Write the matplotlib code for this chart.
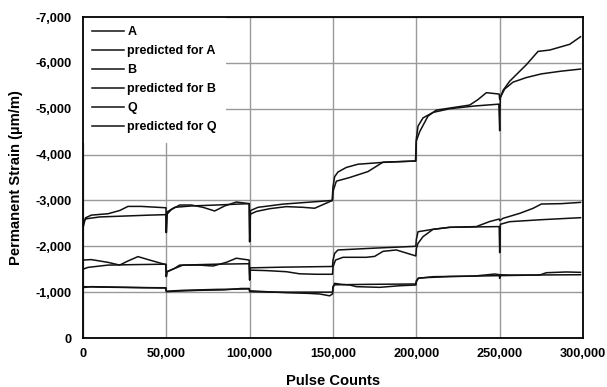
import matplotlib
matplotlib.use("Agg")
import matplotlib.pyplot as plt
from matplotlib.ticker import FuncFormatter, MultipleLocator

plt.rcParams["font.family"] = ["Liberation Sans", "DejaVu Sans"]
plt.rcParams["font.weight"] = "bold"

# Measured and predicted permanent strain (pulse count, strain in um/m).
a_x = [0, 0, 1500, 5000, 15000, 22000, 27000, 35000, 45000, 49800, 50000, 50400, 53000, 58000,
       65000, 72000, 79000, 85000, 92000, 99800, 100000, 100400, 104000, 112000, 122000, 132000,
       139000, 149700, 150000, 152000, 160000, 171000, 180000, 199700, 200000, 202000, 207000,
       212000, 232000, 237000, 242000, 249700, 250000, 252000, 256000, 266000, 273000, 280000,
       292000, 298500]
a_y = [-2400, -2400, -2620, -2680, -2710, -2780, -2870, -2870, -2850, -2840, -2300, -2700, -2800,
       -2900, -2900, -2850, -2770, -2880, -2965, -2930, -2100, -2700, -2760, -2820, -2865, -2850,
       -2830, -3000, -3200, -3420, -3500, -3630, -3835, -3860, -4300, -4500, -4840, -4970, -5080,
       -5200, -5350, -5320, -5200, -5400, -5600, -5960, -6250, -6280, -6405, -6570]

a_pred_x = [0, 2000, 10000, 25000, 40000, 49700, 50000, 50500, 55000, 65000, 80000, 99700,
            100000, 100500, 105000, 120000, 135000, 149500, 150000, 151000, 153000, 158000,
            165000, 180000, 199500, 200000, 201000, 204000, 210000, 220000, 235000, 249500,
            250000, 250400, 253000, 258000, 266000, 275000, 287000, 298500]
a_pred_y = [-2550, -2600, -2640, -2660, -2680, -2690, -2300, -2750, -2850, -2880, -2900, -2930,
            -2100, -2780, -2850, -2920, -2960, -3000, -3300, -3520, -3620, -3720, -3790, -3830,
            -3860, -4350, -4620, -4800, -4920, -5000, -5060, -5100, -4520, -5250, -5430, -5580,
            -5680, -5760, -5820, -5865]

b_x = [0, 5000, 15000, 22000, 27000, 33000, 40000, 49700, 50000, 50400, 55000, 58000, 70000,
       78000, 86000, 92000, 99700, 100000, 100400, 110000, 122000, 130000, 140000, 149700, 150000,
       151500, 156000, 170000, 175000, 180000, 188000, 199700, 200000, 201000, 204000, 210000,
       220000, 236000, 244000, 249700, 250000, 252000, 262000, 270000, 275000, 287000, 298500]
b_y = [-1700, -1710, -1650, -1590, -1680, -1775, -1700, -1600, -1340, -1440, -1520, -1590, -1590,
       -1570, -1650, -1740, -1700, -1265, -1480, -1470, -1446, -1400, -1390, -1390, -1550, -1700,
       -1760, -1760, -1780, -1890, -1920, -1790, -1950, -2064, -2210, -2370, -2414, -2430, -2540,
       -2595, -2560, -2610, -2718, -2828, -2922, -2930, -2958]

b_pred_x = [0, 3000, 15000, 30000, 49700, 50000, 50400, 60000, 80000, 99700, 100000, 100400,
            120000, 149700, 150000, 151000, 153000, 175000, 199700, 200000, 201000, 210000,
            220000, 249700, 250000, 250400, 256000, 275000, 298500]
b_pred_y = [-1500, -1540, -1590, -1600, -1610, -1340, -1450, -1590, -1610, -1620, -1265, -1530,
            -1545, -1560, -1700, -1846, -1920, -1960, -2000, -2150, -2318, -2370, -2414, -2430,
            -1860, -2480, -2537, -2580, -2624]

q_x = [0, 5000, 20000, 35000, 49700, 50000, 55000, 70000, 85000, 95000, 99700, 100000, 110000,
       122000, 135000, 142000, 148000, 149700, 150000, 151000, 155000, 160000, 164000, 178000,
       190000, 199700, 200000, 201000, 210000, 235000, 247000, 250000, 256000, 274000, 278000,
       290000, 298500]
q_y = [-1100, -1120, -1110, -1100, -1095, -1010, -1020, -1040, -1050, -1080, -1080, -1030, -1010,
       -988, -974, -960, -920, -960, -1100, -1192, -1170, -1156, -1120, -1105, -1140, -1156,
       -1220, -1301, -1337, -1352, -1395, -1380, -1373, -1373, -1424, -1440, -1432]

q_pred_x = [0, 10000, 30000, 49700, 50000, 60000, 80000, 99700, 100000, 115000, 149700, 150000,
            151000, 170000, 199700, 200000, 201500, 220000, 249700, 250000, 250400, 275000, 298500]
q_pred_y = [-1120, -1110, -1100, -1090, -1020, -1040, -1060, -1070, -1010, -1000, -1000, -1120,
            -1160, -1170, -1178, -1250, -1310, -1340, -1360, -1300, -1360, -1375, -1380]

series = [
    ("A", a_x, a_y),
    ("predicted for A", a_pred_x, a_pred_y),
    ("B", b_x, b_y),
    ("predicted for B", b_pred_x, b_pred_y),
    ("Q", q_x, q_y),
    ("predicted for Q", q_pred_x, q_pred_y),
]

fig = plt.figure(figsize=(6.07, 3.87), dpi=100)
ax = fig.add_axes([0.1367, 0.1266, 0.8238, 0.8294])

for name, xs, ys in series:
    ax.plot(xs, ys, color="#111111", linewidth=1.1, label=name)

ax.set_xlim(0, 300000)
ax.set_ylim(0, -7000)
ax.xaxis.set_major_locator(MultipleLocator(50000))
ax.yaxis.set_major_locator(MultipleLocator(1000))
fmt = FuncFormatter(lambda v, p: f"{int(round(v)):,}")
ax.xaxis.set_major_formatter(fmt)
ax.yaxis.set_major_formatter(fmt)

ax.grid(True, color="#999999", linewidth=1.0)
ax.set_axisbelow(True)
for sp in ax.spines.values():
    sp.set_linewidth(1.3)
    sp.set_zorder(3)
ax.tick_params(axis="both", length=0, labelsize=9.2)
ax.tick_params(axis="x", pad=7.5)
ax.tick_params(axis="y", pad=8)
for lbl in ax.get_xticklabels() + ax.get_yticklabels():
    lbl.set_fontweight("bold")

# axis titles placed by hand, like the original
fig.text(333 / 607, 1 - 385 / 387, "Pulse Counts", fontsize=10.6, fontweight="bold",
         ha="center", va="baseline")
fig.text(16 / 607, 1 - 177.5 / 387, "Permanent Strain (\u00b5m/m)", fontsize=10.6,
         fontweight="bold", ha="center", va="center", rotation=90)

leg = ax.legend(loc="upper left", bbox_to_anchor=(0, 1), borderaxespad=0.0, fontsize=9,
                handlelength=2.5, handletextpad=0.3, labelspacing=0.56, borderpad=0.75,
                frameon=True, fancybox=False, edgecolor="none", facecolor="white", framealpha=1)
leg.set_zorder(2.5)
for t in leg.get_texts():
    t.set_fontweight("bold")

fig.savefig("out.png", dpi=100)
